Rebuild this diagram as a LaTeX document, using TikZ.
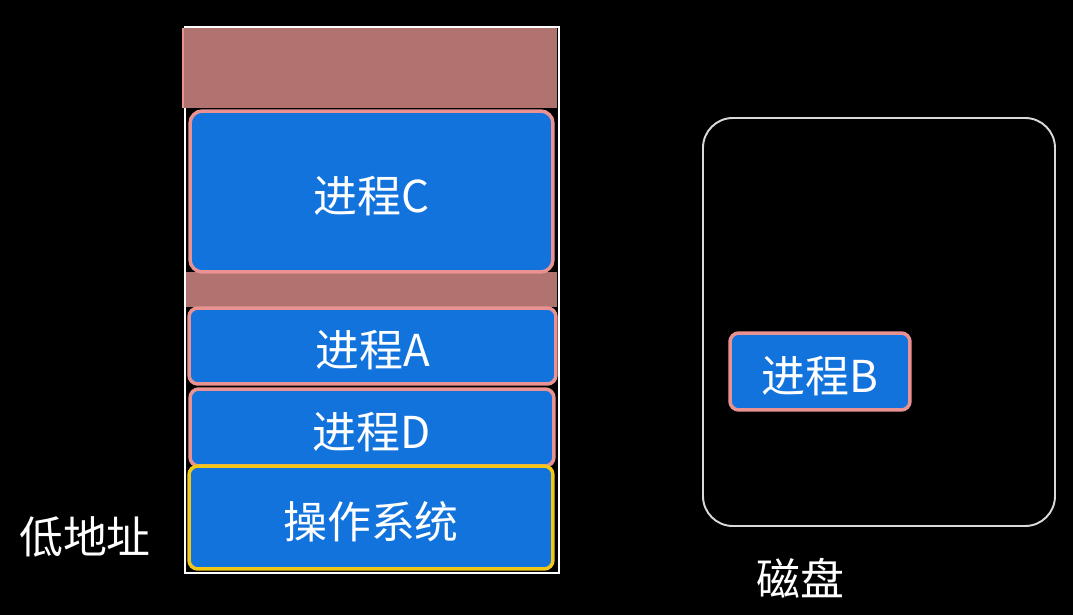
\documentclass[tikz,border=0pt]{standalone}
\usepackage{fontspec}
\usepackage{tikz}
\usetikzlibrary{positioning}
\newfontfamily\cjk{Noto Sans CJK SC}
\definecolor{procblue}{RGB}{19,115,221}
\definecolor{procpink}{RGB}{234,146,146}
\definecolor{freebrown}{RGB}{176,115,112}
\definecolor{osyellow}{RGB}{242,200,24}
\newcommand{\proctext}[1]{\raisebox{-2.5pt}[\height][\depth]{#1}}
\tikzset{
  memframe/.style={draw=white, line width=0.8pt},
  freeblock/.style={fill=freebrown},
  proc/.style={draw=procpink, line width=2pt, fill=procblue,
               rounded corners=5pt, inner sep=0pt, text=white,
               font=\cjk\fontsize{25}{28}\selectfont},
  osproc/.style={proc, draw=osyellow},
  disk/.style={draw=white!85!black, line width=1.1pt, rounded corners=17pt},
  lab/.style={text=white, font=\cjk\fontsize{25}{28}\selectfont},
}

\begin{document}
\begin{tikzpicture}[x=0.02cm,y=-0.02cm]
  \fill[black] (0,0) rectangle (1073,615);
  \path[use as bounding box] (0,0) rectangle (1073,615);

  % Memory panel.
  \draw[memframe] (185,27) rectangle (559,573);
  \fill[freeblock] (182,28) rectangle (557,108);
  \fill[freeblock] (186,272) rectangle (557,307);
  \draw[procpink, line width=0.8pt] (183,28) -- (183,108);

  \node[proc, minimum width=7.26cm, minimum height=3.22cm, rounded corners=7pt]
    (procC) at (371.5,191.5) {\proctext{进程C}};
  \node[proc, minimum width=7.34cm, minimum height=1.52cm]
    (procA) at (372.5,346) {\proctext{进程A}};
  \node[proc, minimum width=7.28cm, minimum height=1.54cm]
    (procD) at (372,427.5) {\proctext{进程D}};
  \node[osproc, minimum width=7.28cm, minimum height=2.06cm]
    (os) at (371,517.5) {\proctext{操作系统}};

  \node[lab] (low) at (85,537) {低地址};

  % Disk panel.
  \draw[disk] (703,118) rectangle (1055,526);
  \node[proc, minimum width=3.6cm, minimum height=1.54cm]
    (procB) at (820,371.5) {\proctext{进程B}};
  \node[lab] (disklab) at (800,578) {磁盘};
\end{tikzpicture}
\end{document}
